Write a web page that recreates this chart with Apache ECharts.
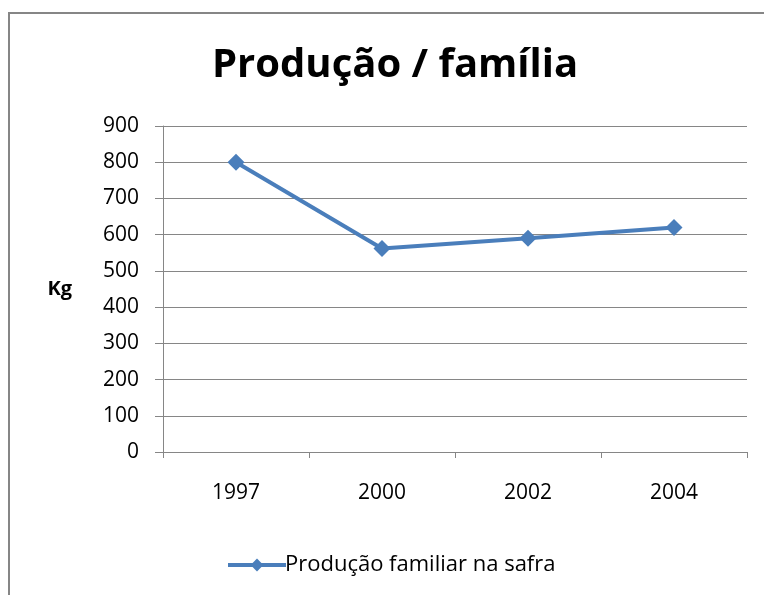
<!DOCTYPE html>
<html>
<head>
<meta charset="utf-8">
<script src="https://cdn.jsdelivr.net/npm/echarts@6/dist/echarts.min.js"></script>
<style>
  html, body { margin: 0; padding: 0; background: #fff; }
  #chart { width: 764px; height: 595px; }
</style>
</head>
<body>
<div id="chart"></div>
<script>
var years = ['1997', '2000', '2002', '2004'];
var producao = [800, 562, 590, 620];
var yTicks = { min: 0, max: 900, interval: 100 };

var font = 'Open Sans';
var gridColor = '#868686';
var lineColor = '#4a7ebb';

var chart = echarts.init(document.getElementById('chart'));
chart.setOption({
    animation: false,
    backgroundColor: '#fff',
    title: {
        text: 'Produção / família',
        left: 207,
        top: 41,
        textStyle: { fontFamily: font, fontSize: 40, fontWeight: 'bold', color: '#000' }
    },
    graphic: [{
        type: 'rect',
        shape: { x: 9, y: 13, width: 800, height: 620 },
        style: { fill: null, stroke: gridColor, lineWidth: 2 }
    }],
    legend: {
        left: 221,
        top: 549,
        itemWidth: 58,
        itemHeight: 16,
        itemGap: 0,
        lineStyle: { width: 4 },
        textStyle: { fontFamily: font, fontSize: 22, color: '#000', padding: [0, 0, 0, -6] },
        data: ['Produção familiar na safra']
    },
    grid: { left: 163, right: 17, top: 126, bottom: 143 },
    xAxis: {
        type: 'category',
        data: years,
        boundaryGap: true,
        axisLine: { lineStyle: { color: gridColor, width: 1 } },
        axisTick: { show: true, length: 6, lineStyle: { color: gridColor } },
        axisLabel: { fontFamily: font, fontSize: 21, color: '#000', margin: 31 }
    },
    yAxis: {
        type: 'value',
        min: yTicks.min,
        max: yTicks.max,
        interval: yTicks.interval,
        name: 'Kg',
        nameLocation: 'middle',
        nameRotate: 0,
        nameGap: 91,
        nameTextStyle: { fontFamily: font, fontSize: 20, fontWeight: 'bold', color: '#000', align: 'right', padding: [10, 0, 0, 0] },
        axisLine: { show: true, lineStyle: { color: gridColor, width: 1 } },
        axisTick: { show: true, length: 8, lineStyle: { color: gridColor } },
        splitLine: { lineStyle: { color: gridColor, width: 1 } },
        axisLabel: { fontFamily: font, fontSize: 21, color: '#000', margin: 24 }
    },
    series: [{
        name: 'Produção familiar na safra',
        type: 'line',
        data: producao,
        symbol: 'diamond',
        symbolSize: 17,
        lineStyle: { color: lineColor, width: 4 },
        itemStyle: { color: lineColor }
    }]
});
</script>
</body>
</html>
